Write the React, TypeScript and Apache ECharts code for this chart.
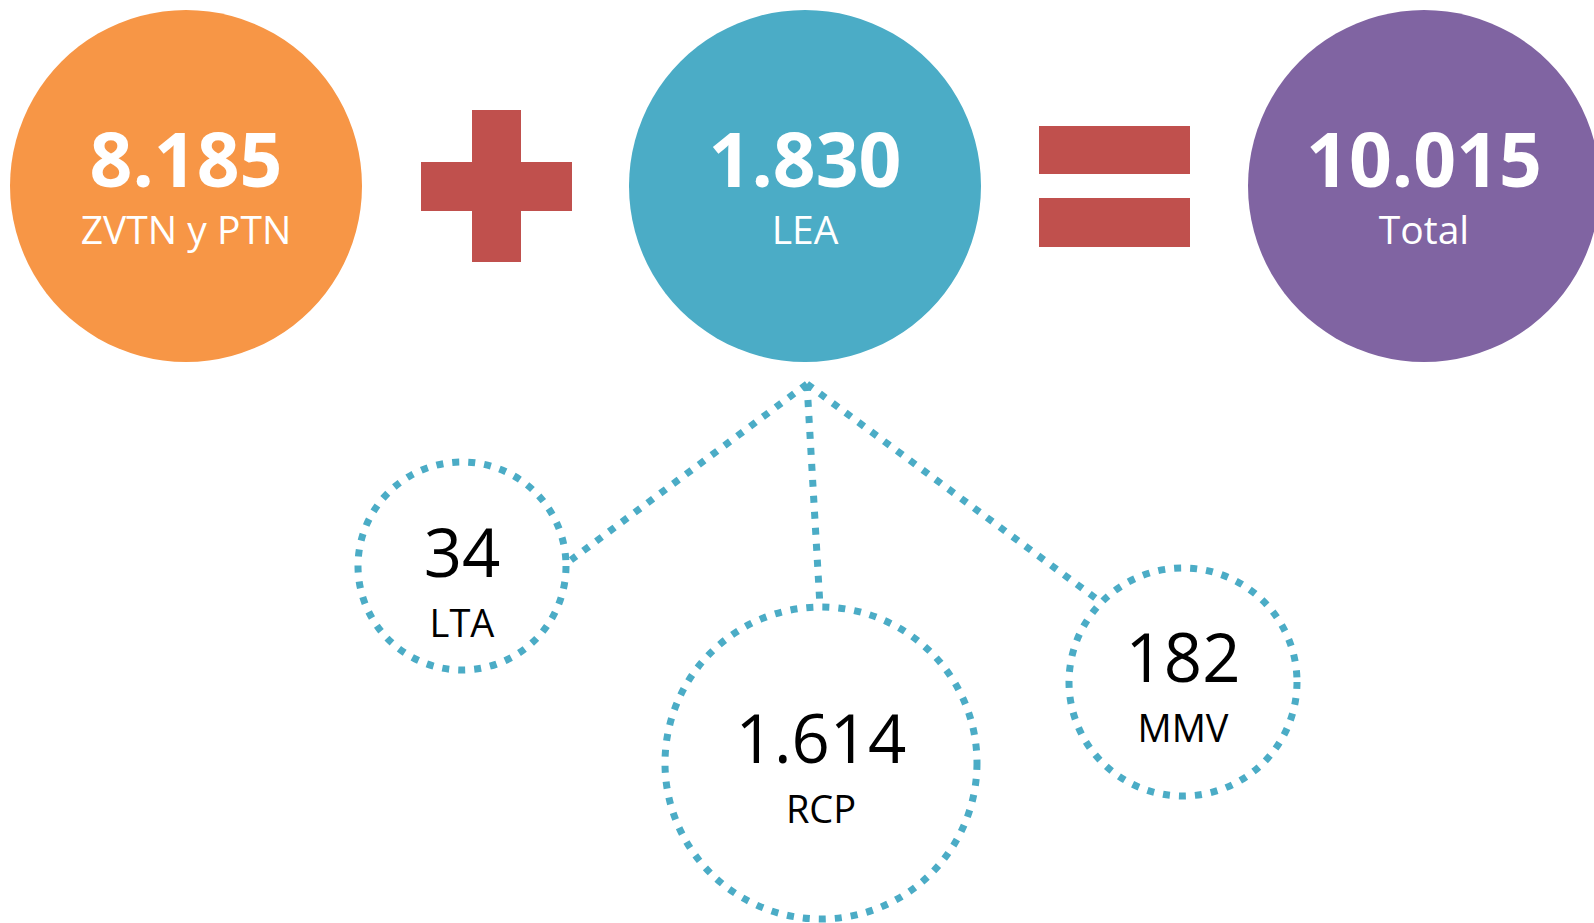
import React, { useEffect, useRef } from "react";
import * as echarts from "echarts";

// ---- data ----
const mainLabels = ["ZVTN y PTN", "LEA", "Total"];
const mainValues = [8185, 1830, 10015];
const subLabels = ["LTA", "RCP", "MMV"];
const subValues = [34, 1614, 182];

// ---- layout (pixels) ----
const W = 1594;
const H = 923;
const mainCenters = [
  [186, 186],
  [805, 186],
  [1424, 186],
];
const mainRadius = 176;
const mainColors = ["#F79646", "#4BACC6", "#8064A2"];
const subCenters = [
  [462, 566],
  [821, 763],
  [1183, 682],
];
const subRadii = [104, 156, 114];
const subOffsets = [16, 5, 5];
const apex = [807, 384];
const connectorEnds = [
  [571, 560],
  [820, 606],
  [1098, 600],
];
const red = "#C0504D";
const teal = "#4BACC6";
const FONT = "'Open Sans', 'Noto Sans', sans-serif";

const fmt = (v: number) => String(v).replace(/\B(?=(\d{3})+(?!\d))/g, ".");

export default function App() {
  const ref = useRef<HTMLDivElement>(null);
  useEffect(() => {
    if (!ref.current) return;
    const chart = echarts.init(ref.current, null, { renderer: "svg" });

    const mainData = mainValues.map((v, i) => ({
      value: [mainCenters[i][0], mainCenters[i][1]],
      name: mainLabels[i],
      num: v,
      symbolSize: mainRadius * 2,
      itemStyle: { color: mainColors[i], opacity: 1 },
    }));
    const subData = subValues.map((v, i) => ({
      value: [subCenters[i][0], subCenters[i][1]],
      name: subLabels[i],
      num: v,
      symbolSize: subRadii[i] * 2,
      label: { offset: [0, subOffsets[i]] },
    }));

    const connectors = connectorEnds.map((e) => ({
      type: "line",
      z: 0,
      shape: { x1: apex[0], y1: apex[1], x2: e[0], y2: e[1] },
      style: { stroke: teal, lineWidth: 7, lineDash: [7, 9], lineCap: "butt" },
    }));

    const option: any = {
      animation: false,
      backgroundColor: "#ffffff",
      grid: { left: 0, right: 0, top: 0, bottom: 0, containLabel: false },
      xAxis: { type: "value", min: 0, max: W, show: false },
      yAxis: { type: "value", min: 0, max: H, inverse: true, show: false },
      graphic: [
        ...connectors,
        // plus sign
        { type: "rect", z: 0, shape: { x: 421, y: 162, width: 151, height: 49 }, style: { fill: red } },
        { type: "rect", z: 0, shape: { x: 472, y: 110, width: 49, height: 152 }, style: { fill: red } },
        // equals sign
        { type: "rect", z: 0, shape: { x: 1039, y: 126, width: 151, height: 48 }, style: { fill: red } },
        { type: "rect", z: 0, shape: { x: 1039, y: 198, width: 151, height: 49 }, style: { fill: red } },
      ],
      series: [
        {
          type: "scatter",
          symbol: "circle",
          z: 3,
          data: mainData,
          itemStyle: { opacity: 1 },
          label: {
            show: true,
            position: "inside",
            formatter: (p: any) => `{v|${fmt(p.data.num)}}\n{n|${p.name}}`,
            rich: {
              v: { fontFamily: FONT, fontSize: 75, fontWeight: 700, color: "#ffffff", lineHeight: 84, align: "center" },
              n: { fontFamily: FONT, fontSize: 39, fontWeight: 400, color: "#ffffff", lineHeight: 56, align: "center" },
            },
          },
          emphasis: { disabled: true },
        },
        {
          type: "scatter",
          symbol: "circle",
          z: 3,
          data: subData,
          itemStyle: {
            opacity: 1,
            color: "#ffffff",
            borderColor: teal,
            borderWidth: 7,
            borderType: [7, 9],
            borderCap: "butt",
          },
          label: {
            show: true,
            position: "inside",
            formatter: (p: any) => `{v|${fmt(p.data.num)}}\n{n|${p.name}}`,
            rich: {
              v: { fontFamily: FONT, fontSize: 67, fontWeight: 400, color: "#000000", lineHeight: 80, align: "center" },
              n: { fontFamily: FONT, fontSize: 38, fontWeight: 400, color: "#000000", lineHeight: 62, align: "center" },
            },
          },
          emphasis: { disabled: true },
        },
      ],
    };
    chart.setOption(option);
    return () => chart.dispose();
  }, []);
  return (
    <div
      ref={ref}
      style={{ position: "fixed", left: 0, top: 0, width: W, height: H, background: "#fff" }}
    />
  );
}
